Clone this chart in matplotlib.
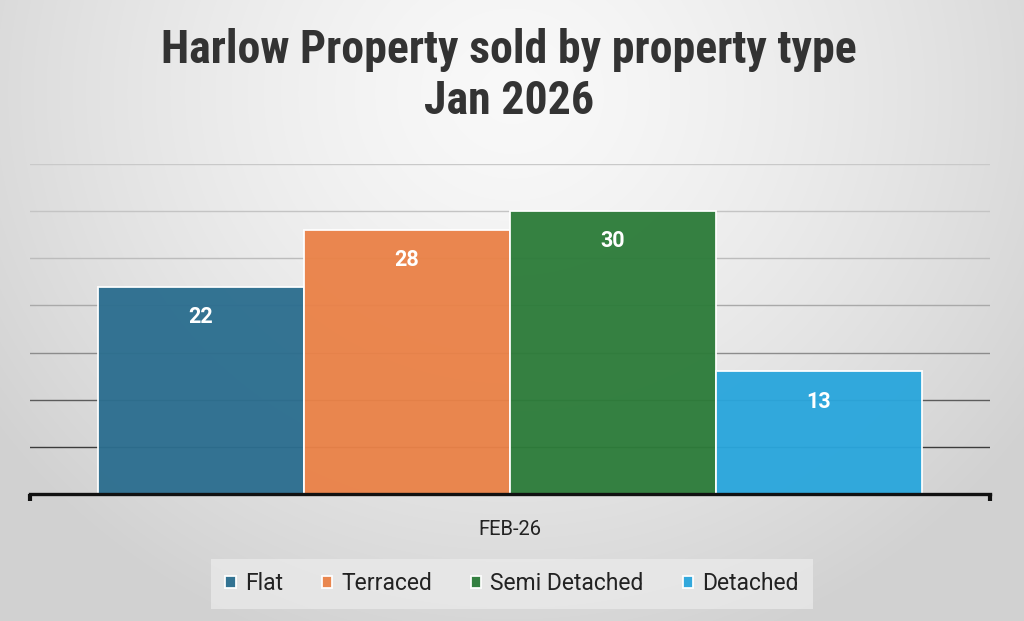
import numpy as np
import matplotlib
matplotlib.use("Agg")
import matplotlib.pyplot as plt
from matplotlib import font_manager

# ---- data ----
title_text = "Harlow Property sold by property type\nJan 2026"
period = "FEB-26"
types = ["Flat", "Terraced", "Semi Detached", "Detached"]
counts = [22, 28, 30, 13]
colors = ["#2c6e8f", "#ea8248", "#2d7c3a", "#2aa6dc"]
grid_levels = [5, 10, 15, 20, 25, 30, 35]

names = {f.name for f in font_manager.fontManager.ttflist}
def pick(cands):
    for n in cands:
        if n in names:
            return n
    return "DejaVu Sans"
title_font = pick(["Liberation Sans Narrow", "Roboto Condensed", "Roboto", "Open Sans"])
body_font = pick(["Roboto", "Open Sans", "Liberation Sans"])

W, H = 1024, 621
fig = plt.figure(figsize=(W / 100, H / 100), dpi=100)

# background radial gradient
bg = fig.add_axes([0, 0, 1, 1], zorder=-10)
yy, xx = np.mgrid[0:H, 0:W]
cx, cy = W * 0.5, H * 0.15
r = np.sqrt(((xx - cx) / (W * 0.62)) ** 2 + ((yy - cy) / (H * 0.95)) ** 2)
r = np.clip(r, 0, 1)
v = 0.975 - (0.975 - 0.82) * r ** 1.4
img = np.dstack([v, v, v])
bg.imshow(img, aspect="auto", extent=[0, 1, 0, 1], origin="upper")
bg.axis("off")

ax = fig.add_axes([30 / W, (H - 494) / H, 960 / W, (494 - 164) / H])
ax.patch.set_alpha(0)

bw = 0.2146
n = len(types)
for i, (t, c, col) in enumerate(zip(types, counts, colors)):
    x = (i - (n - 1) / 2) * bw
    ax.bar(x, c, width=bw, color=col, edgecolor="white", linewidth=1.3,
           alpha=0.96, label=t, zorder=2)
    ax.text(x, c - 3.2, str(c), ha="center", va="center", color="white",
            fontsize=15.5, fontweight="bold", family=body_font, zorder=3)

ax.set_xlim(-0.5, 0.5)
ax.set_ylim(0, 35)
ax.set_yticks(grid_levels)
ax.tick_params(axis="y", length=0, labelleft=False)
ax.yaxis.grid(True, linewidth=1.0, zorder=0)
ax.set_axisbelow(True)
gcols = ["#3c3c3c", "#5c5c5c", "#8c8c8c", "#a9a9a9", "#bcbcbc", "#c4c4c4", "#c9c9c9"]
for gl, gc in zip(ax.get_ygridlines(), gcols):
    gl.set_color(gc)

for s in ["top", "left", "right"]:
    ax.spines[s].set_visible(False)
ax.spines["bottom"].set_linewidth(2.4)
ax.spines["bottom"].set_color("#111111")

ax.set_xticks([-0.5, 0.5])
ax.set_xticklabels([])
ax.tick_params(axis="x", which="major", direction="out", length=5, width=3, color="#111111")
ax.set_xticks([0], minor=True)
ax.set_xticklabels([period], minor=True)
ax.tick_params(axis="x", which="minor", length=0, pad=19, labelsize=14.5, labelcolor="#222222")
for lbl in ax.get_xticklabels(minor=True):
    lbl.set_family(body_font)

fig.text(0.497, (H - 75) / H, title_text, ha="center", va="center",
         fontsize=33, fontweight="bold", family=title_font, color="#333333",
         linespacing=1.2)

leg = fig.legend(loc="center", bbox_to_anchor=(512 / W, (H - 584) / H), ncol=4,
                 frameon=True, prop={"family": body_font, "size": 16.5},
                 handlelength=0.45, handleheight=0.45, handletextpad=0.4,
                 columnspacing=1.7, borderpad=0.6, fancybox=False)
leg.get_frame().set_facecolor("#ececec")
leg.get_frame().set_alpha(0.7)
leg.get_frame().set_linewidth(0)
for t in leg.get_texts():
    t.set_color("#222222")

fig.savefig("out.png", dpi=100)
